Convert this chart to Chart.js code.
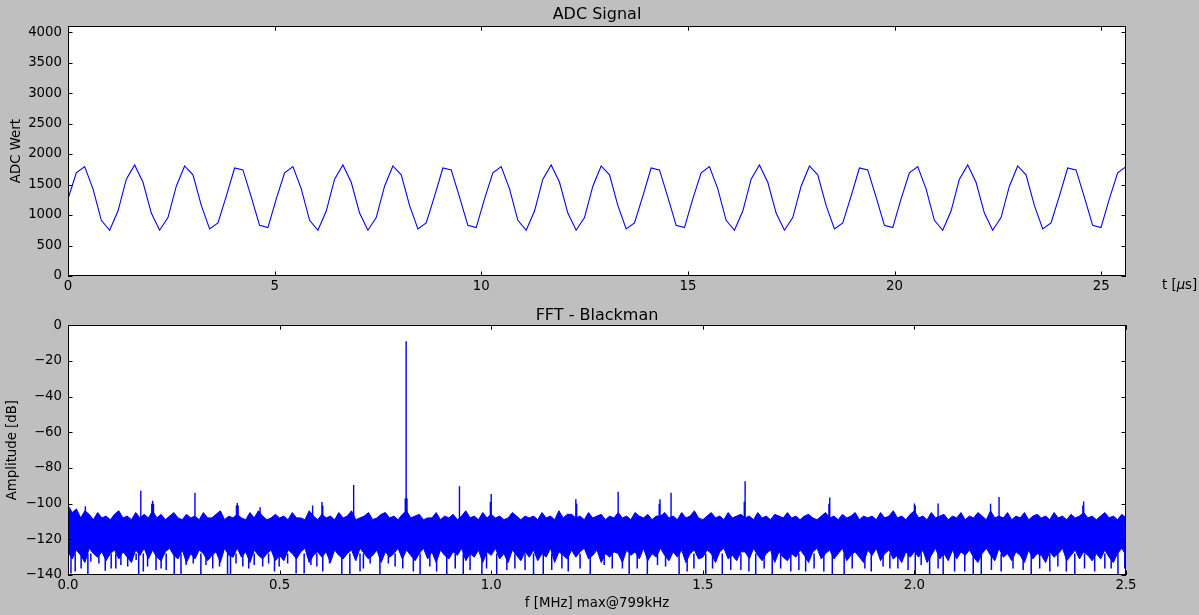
<!DOCTYPE html>
<html>
<head>
<meta charset="utf-8">
<script src="https://cdn.jsdelivr.net/npm/chart.js@4.4.1/dist/chart.umd.min.js"></script>
<style>
  html, body { margin: 0; padding: 0; background: #bfbfbf; }
  #wrap { position: relative; width: 1199px; height: 615px; }
  canvas { position: absolute; left: 0; }
  #adc { top: 0; }
  #fft { top: 300px; }
</style>
</head>
<body>
<div id="wrap">
  <canvas id="adc" width="1199" height="300"></canvas>
  <canvas id="fft" width="1199" height="315"></canvas>
</div>
<script>
// ---- top plot: ADC samples (128 values) ----
var adcValues = [
  1266, 1690, 1793, 1429, 913, 750, 1065, 1587, 1820, 1537, 1032, 750, 957, 1472, 1804, 1658, 1157, 771, 869, 1309, 1771, 1739, 1293, 831, 793,
  1266, 1690, 1793, 1429, 913, 750, 1065, 1587, 1820, 1537, 1032, 750, 957, 1472, 1804, 1658, 1157, 771, 869, 1309, 1771, 1739, 1293, 831, 793,
  1266, 1690, 1793, 1429, 913, 750, 1065, 1587, 1820, 1537, 1032, 750, 957, 1472, 1804, 1658, 1157, 771, 869, 1309, 1771, 1739, 1293, 831, 793,
  1266, 1690, 1793, 1429, 913, 750, 1065, 1587, 1820, 1537, 1032, 750, 957, 1472, 1804, 1658, 1157, 771, 869, 1309, 1771, 1739, 1293, 831, 793,
  1266, 1690, 1793, 1429, 913, 750, 1065, 1587, 1820, 1537, 1032, 750, 957, 1472, 1804, 1658, 1157, 771, 869, 1309, 1771, 1739, 1293, 831, 793,
  1266, 1690, 1793
];
var adcSpan = 25.6; // us
var adcTicksX = [0, 5, 10, 15, 20, 25];
var adcTicksY = [0, 500, 1000, 1500, 2000, 2500, 3000, 3500, 4000];

// ---- bottom plot: FFT (dB) ----
// upper / lower edge of the noise band, one value every 10 kHz
var noiseTop = [
  -101,-105,-103,-108,-104,-106,-109,-105,-108,-107,
  -109,-106,-104,-108,-107,-109,-105,-108,-106,-108,
  -104,-108,-106,-109,-107,-105,-108,-109,-106,-108,
  -107,-109,-105,-108,-108,-106,-104,-109,-107,-108,
  -106,-108,-109,-105,-108,-104,-107,-109,-108,-106,
  -108,-107,-109,-105,-108,-108,-109,-104,-107,-109,
  -106,-108,-107,-109,-105,-108,-107,-104,-109,-108,
  -107,-105,-109,-108,-106,-105,-108,-107,-109,-106,
  -104,-108,-107,-106,-109,-108,-108,-105,-109,-107,
  -108,-106,-109,-107,-104,-108,-107,-109,-105,-108,
  -106,-108,-107,-109,-108,-105,-107,-109,-107,-108,
  -107,-109,-105,-108,-107,-109,-104,-108,-106,-106,
  -108,-107,-109,-105,-108,-107,-106,-109,-107,-108,
  -105,-108,-107,-109,-105,-107,-108,-106,-109,-107,
  -107,-105,-108,-107,-109,-105,-108,-107,-104,-108,
  -109,-107,-105,-108,-107,-109,-105,-108,-107,-106,
  -108,-107,-109,-105,-108,-107,-109,-106,-107,-108,
  -105,-108,-107,-109,-107,-106,-108,-109,-107,-105,
  -108,-107,-109,-106,-108,-107,-105,-109,-107,-108,
  -107,-109,-105,-108,-107,-104,-108,-107,-109,-106,
  -104,-108,-107,-109,-105,-108,-107,-106,-109,-107,
  -108,-105,-109,-107,-108,-105,-107,-109,-104,-108,
  -107,-108,-105,-109,-107,-108,-105,-109,-107,-106,
  -108,-107,-109,-105,-108,-107,-109,-106,-108,-107,
  -105,-108,-107,-109,-107,-105,-108,-107,-109,-106,
  -108
];
var noiseBottom = [
  -127,-131,-126,-129,-133,-125,-128,-130,-127,-132,
  -128,-126,-131,-127,-130,-133,-126,-129,-125,-131,
  -126,-130,-132,-127,-125,-129,-131,-126,-133,-128,
  -131,-126,-128,-132,-129,-127,-133,-125,-129,-130,
  -125,-130,-127,-133,-126,-129,-131,-128,-126,-132,
  -129,-132,-126,-128,-131,-127,-125,-133,-129,-127,
  -130,-127,-133,-126,-129,-131,-128,-126,-132,-125,
  -128,-131,-129,-126,-133,-127,-130,-128,-125,-131,
  -126,-129,-132,-128,-125,-131,-127,-133,-126,-129,
  -131,-127,-129,-125,-132,-128,-130,-126,-133,-127,
  -129,-125,-131,-128,-133,-126,-129,-132,-127,-130,
  -126,-132,-128,-130,-125,-133,-127,-129,-131,-126,
  -130,-127,-125,-131,-129,-126,-133,-128,-130,-127,
  -128,-133,-126,-129,-127,-131,-125,-132,-128,-130,
  -125,-129,-132,-127,-130,-126,-133,-128,-126,-131,
  -130,-126,-128,-133,-127,-125,-131,-129,-132,-127,
  -127,-131,-125,-129,-132,-128,-126,-133,-127,-130,
  -132,-128,-130,-126,-129,-133,-127,-125,-131,-128,
  -126,-131,-128,-125,-132,-129,-127,-130,-133,-126,
  -129,-125,-132,-128,-126,-131,-129,-133,-127,-130,
  -127,-130,-126,-133,-129,-125,-131,-128,-132,-126,
  -131,-127,-129,-126,-130,-133,-128,-125,-129,-132,
  -125,-130,-128,-132,-127,-129,-133,-126,-131,-128,
  -129,-133,-127,-130,-128,-125,-132,-129,-126,-131,
  -127,-129,-132,-128,-131,-126,-130,-133,-128,-125,
  -129
];
// deep notches below the band (MHz, dB)
var dipFreqs = [
  0.007,0.017,0.031,0.047,0.054,0.073,0.088,0.102,0.113,0.125,0.141,0.161,0.167,0.178,0.188,0.208,0.220,0.232,0.251,0.267,0.279,0.296,0.314,0.326,0.342,0.358,0.377,0.384,0.397,0.413,0.427,0.440,0.460,0.474,0.488,0.499,0.519,0.539,0.558,0.574,0.588,0.602,0.618,
  0.647,0.666,0.690,0.698,0.714,0.737,0.757,0.773,0.791,0.816,0.832,0.855,0.871,0.895,0.915,0.934,0.950,0.978,0.989,1.013,1.037,1.056,1.080,1.100,1.123,1.143,1.167,1.182,1.210,1.234,
  1.267,1.286,1.310,1.326,1.345,1.369,1.393,1.412,1.444,1.463,1.479,1.507,1.523,1.546,1.566,1.590,1.609,1.625,1.645,1.664,1.684,1.708,1.727,1.743,1.763,1.786,1.806,1.834,1.853,
  1.883,1.898,1.926,1.942,1.961,1.985,2.002,2.016,2.036,2.056,2.068,2.095,2.119,2.139,2.158,2.182,2.205,2.233,2.257,2.276,2.296,2.320,2.339,2.359,2.379,2.402,2.426,2.450,2.465,2.481,2.497
];
var dipLevels = [
  -139.1,-138.1,-136.3,-140,-132.5,-133.5,-137.6,-136.3,-136.3,-134.4,-135.3,-131.6,-140,-138.1,-135.3,-137.2,-136.3,-137.2,-140,-140,-134.4,-133.5,-140,-134.4,-136.3,-135.3,-140,-140,-133.5,-135.3,-136.3,-134.4,-135.3,-133.5,-138.1,-135.3,-133.5,-139.1,-139.1,-134.4,-135.3,-138.1,-133.5,
  -140,-140,-138.1,-136.3,-133.5,-140,-133.5,-135.3,-136.3,-138.1,-140,-135.3,-138.1,-140,-136.3,-140,-137.2,-140,-136.3,-140,-137.2,-136.3,-137.2,-140,-140,-137.2,-136.3,-138.1,-136.3,-140,
  -134.4,-136.3,-136.3,-140,-136.3,-140,-134.4,-135.3,-140,-138.1,-136.3,-140,-136.3,-140,-137.2,-137.2,-138.1,-140,-136.3,-140,-136.3,-138.1,-137.2,-138.1,-136.3,-138.1,-140,-140,-136.3,
  -136.3,-138.1,-135.3,-136.3,-136.3,-137.2,-140,-134.4,-140,-136.3,-140,-138.1,-138.1,-140,-140,-137.2,-138.1,-136.3,-137.2,-140,-136.3,-138.1,-135.3,-138.1,-140,-136.3,-138.1,-136.3,-136.3,-140,-136.3
];
// spurs sticking out of the band (MHz, dB)
var spurFreqs = [0.041, 0.172, 0.198, 0.2, 0.202, 0.3, 0.398, 0.4, 0.402, 0.454, 0.578, 0.6, 0.602, 0.675,
  0.797, 0.799, 0.801, 0.925, 0.998, 1.0, 1.2, 1.202, 1.3, 1.397, 1.399, 1.425, 1.598, 1.6,
  1.798, 1.8, 2.0, 2.002, 2.056, 2.18, 2.2, 2.398, 2.4];
var spurLevels = [-101.5, -92.8, -100, -98.4, -100, -93.9, -101, -99.6, -101, -102, -101, -99.1, -101, -89.6,
  -97, -9, -97, -90.2, -99, -94.6, -97.6, -100, -93.3, -100, -97.6, -93.9, -99, -87.5,
  -100, -96.5, -99.9, -101, -99.9, -100, -96.3, -101, -98.8];
var fftTicksX = [0, 0.5, 1.0, 1.5, 2.0, 2.5];
var fftTicksY = [0, -20, -40, -60, -80, -100, -120, -140];

Chart.defaults.font.family = 'DejaVu Sans';
Chart.defaults.font.size = 13.3;
Chart.defaults.color = '#000';

var blue = '#0000ff';

// white axes box, black frame, ticks pointing in on all four sides
var frame = {
  id: 'frame',
  beforeDraw: function(chart) {
    var a = chart.chartArea, ctx = chart.ctx;
    ctx.save();
    ctx.fillStyle = '#fff';
    ctx.fillRect(a.left, a.top, a.right - a.left, a.bottom - a.top);
    ctx.restore();
  },
  afterDraw: function(chart) {
    var a = chart.chartArea, ctx = chart.ctx, sx = chart.scales.x, sy = chart.scales.y;
    var len = 4.5;
    ctx.save();
    ctx.strokeStyle = '#000';
    ctx.lineWidth = 1;
    ctx.beginPath();
    sx.ticks.forEach(function(t) {
      var px = Math.round(sx.getPixelForValue(t.value)) + 0.5;
      ctx.moveTo(px, a.bottom); ctx.lineTo(px, a.bottom - len);
      ctx.moveTo(px, a.top); ctx.lineTo(px, a.top + len);
    });
    sy.ticks.forEach(function(t) {
      var py = Math.round(sy.getPixelForValue(t.value)) + 0.5;
      ctx.moveTo(a.left, py); ctx.lineTo(a.left + len, py);
      ctx.moveTo(a.right, py); ctx.lineTo(a.right - len, py);
    });
    ctx.stroke();
    ctx.strokeRect(Math.round(a.left) + 0.5, Math.round(a.top) + 0.5,
      Math.round(a.right - a.left) - 1, Math.round(a.bottom - a.top) - 1);
    ctx.restore();
  }
};

// x label of the top plot sits right of the axes
var timeLabel = {
  id: 'timeLabel',
  afterDraw: function(chart) {
    var ctx = chart.ctx, a = chart.chartArea;
    var x = a.right + 36, y = a.bottom + 10;
    ctx.save();
    ctx.fillStyle = '#000';
    ctx.textBaseline = 'middle';
    ctx.font = '13.3px "DejaVu Sans"';
    ctx.fillText('t [', x, y);
    x += ctx.measureText('t [').width;
    ctx.font = 'italic 13.3px "DejaVu Sans"';
    ctx.fillText('\u03bc', x, y);
    x += ctx.measureText('\u03bc').width;
    ctx.font = '13.3px "DejaVu Sans"';
    ctx.fillText('s]', x, y);
    ctx.restore();
  }
};

function minus(v) { return v < 0 ? '\u2212' + Math.abs(v) : String(v); }

function segments(freqs, levels, base) {
  var pts = [];
  freqs.forEach(function(f, i) {
    pts.push({x: f, y: base}, {x: f, y: levels[i]}, {x: f, y: null});
  });
  return pts;
}

var adcPoints = adcValues.map(function(v, i) {
  return {x: i * adcSpan / (adcValues.length - 1), y: v};
});

new Chart(document.getElementById('adc'), {
  type: 'line',
  data: {
    datasets: [{
      data: adcPoints,
      borderColor: blue,
      borderWidth: 1.1,
      pointRadius: 0,
      tension: 0
    }]
  },
  options: {
    responsive: false,
    animation: false,
    layout: { padding: { left: 0, right: 73, top: 0, bottom: 0 } },
    plugins: {
      legend: { display: false },
      tooltip: { enabled: false },
      title: {
        display: true, fullSize: false, text: 'ADC Signal', color: '#000',
        font: { size: 16, weight: 'normal' }, padding: { top: 5, bottom: 2 }
      }
    },
    scales: {
      x: {
        type: 'linear', min: 0, max: adcSpan,
        grid: { display: false, drawTicks: false }, border: { display: false },
        afterBuildTicks: function(s) { s.ticks = adcTicksX.map(function(v) { return {value: v}; }); },
        afterFit: function(s) { s.height = 24; },
        ticks: { padding: 3, maxRotation: 0, autoSkip: false, callback: function(v) { return String(v); } }
      },
      y: {
        type: 'linear', min: 0, max: 4096,
        grid: { display: false, drawTicks: false }, border: { display: false },
        afterBuildTicks: function(s) { s.ticks = adcTicksY.map(function(v) { return {value: v}; }); },
        afterFit: function(s) { s.width = 68; },
        ticks: { padding: 6, autoSkip: false, callback: function(v) { return String(v); } },
        title: { display: true, text: 'ADC Wert', padding: { top: 9, bottom: 0 } }
      }
    }
  },
  plugins: [frame, timeLabel]
});

var envFreqs = noiseTop.map(function(_, i) { return i / 100; });

new Chart(document.getElementById('fft'), {
  type: 'line',
  data: {
    datasets: [
      {
        data: noiseTop.map(function(v, i) { return {x: envFreqs[i], y: v}; }),
        borderColor: blue, backgroundColor: blue, borderWidth: 1,
        pointRadius: 0, fill: '+1'
      },
      {
        data: noiseBottom.map(function(v, i) { return {x: envFreqs[i], y: v}; }),
        borderColor: blue, borderWidth: 1, pointRadius: 0, fill: false
      },
      {
        data: segments(dipFreqs, dipLevels, -128),
        borderColor: blue, borderWidth: 1.5, pointRadius: 0, fill: false, spanGaps: false
      },
      {
        data: segments(spurFreqs, spurLevels, -108),
        borderColor: blue, borderWidth: 1.4, pointRadius: 0, fill: false, spanGaps: false
      }
    ]
  },
  options: {
    responsive: false,
    animation: false,
    layout: { padding: { left: 0, right: 73, top: 0, bottom: 0 } },
    plugins: {
      legend: { display: false },
      tooltip: { enabled: false },
      title: {
        display: true, fullSize: false, text: 'FFT - Blackman', color: '#000',
        font: { size: 16, weight: 'normal' }, padding: { top: 6, bottom: 0 }
      }
    },
    scales: {
      x: {
        type: 'linear', min: 0, max: 2.5,
        grid: { display: false, drawTicks: false }, border: { display: false },
        afterBuildTicks: function(s) { s.ticks = fftTicksX.map(function(v) { return {value: v}; }); },
        afterFit: function(s) { s.height = 40; },
        ticks: { padding: 3, maxRotation: 0, autoSkip: false, callback: function(v) { return v.toFixed(1); } },
        title: { display: true, text: 'f [MHz] max@799kHz', padding: { top: 0, bottom: 3 } }
      },
      y: {
        type: 'linear', min: -140, max: 0,
        grid: { display: false, drawTicks: false }, border: { display: false },
        afterBuildTicks: function(s) { s.ticks = fftTicksY.map(function(v) { return {value: v}; }); },
        afterFit: function(s) { s.width = 68; },
        ticks: { padding: 6, autoSkip: false, callback: minus },
        title: { display: true, text: 'Amplitude [dB]', padding: { top: 5, bottom: 0 } }
      }
    }
  },
  plugins: [frame]
});
</script>
</body>
</html>
